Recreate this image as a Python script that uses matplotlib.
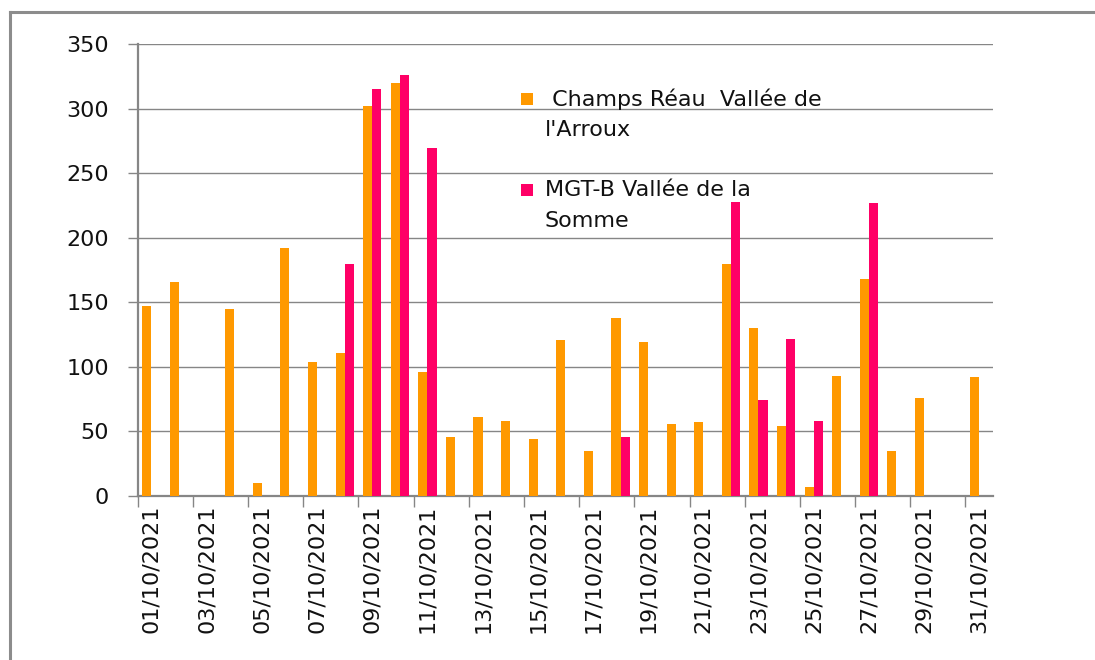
import numpy as np
import matplotlib
matplotlib.use("Agg")
import matplotlib.pyplot as plt
from matplotlib.patches import Rectangle
from matplotlib.lines import Line2D

days = list(range(1, 32))
day_labels = [f"{d:02d}/10/2021" for d in days]
nan = np.nan
champs_reau = [147, 166, nan, 145, 10, 192, 104, 111, 302, 320,
               96, 46, 61, 58, 44, 121, 35, 138, 119, 56,
               57, 180, 130, 54, 7, 93, 168, 35, 76, nan, 92]
mgt_b = [nan, nan, nan, nan, nan, nan, nan, 180, 315, 326,
         270, nan, nan, nan, nan, nan, nan, 46, nan, nan,
         nan, 228, 74, 122, 58, nan, 227, nan, nan, nan, nan]
series_names = ["Champs Réau  Vallée de\nl'Arroux", "MGT-B Vallée de la\nSomme"]
colors = ["#FF9900", "#FF0066"]
yticks = [0, 50, 100, 150, 200, 250, 300, 350]

W, H = 1095, 660
fig = plt.figure(figsize=(W / 100, H / 100), dpi=100)
fig.patch.set_facecolor("white")

L, R, T, B = 137.7, 993, 44.3, 496
ax = fig.add_axes([L / W, 1 - B / H, (R - L) / W, (B - T) / H])

x = np.array(days, dtype=float)
w = 0.33
ax.bar(x - w / 2, champs_reau, width=w, color=colors[0], zorder=3)
ax.bar(x + w / 2, mgt_b, width=w, color=colors[1], zorder=3)

ax.set_xlim(0.5, 31.5)
ax.set_ylim(0, 350)
grid_c = "#868686"
ax.set_yticks(yticks)
ax.set_yticklabels([str(v) for v in yticks])
ax.yaxis.grid(True, color=grid_c, linewidth=1.0)
ax.set_axisbelow(True)
for s in ["top", "right"]:
    ax.spines[s].set_visible(False)
for s in ["left", "bottom"]:
    ax.spines[s].set_color(grid_c)
    ax.spines[s].set_linewidth(1.6)

ax.tick_params(axis="y", direction="out", length=7.5, width=1.0, color=grid_c,
               labelsize=16, pad=13, labelcolor="#111111")

# major ticks at category boundaries, labels on minor ticks at centers
ax.set_xticks(np.arange(0.5, 31.5, 2.0))
ax.set_xticklabels([])
ax.tick_params(axis="x", which="major", direction="out", length=8, width=1.0, color=grid_c)
ax.set_xticks(x[::2], minor=True)
ax.set_xticklabels(day_labels[::2], minor=True, rotation=90)
ax.tick_params(axis="x", which="minor", length=0, labelsize=16, pad=6, labelcolor="#111111")

# legend drawn manually
def px(xp, yp):
    return xp / W, 1 - yp / H

for i, (name, c) in enumerate(zip(series_names, colors)):
    y0 = 99 + i * 91
    lines = name.split("\n")
    fig.patches.append(Rectangle(px(521, y0 + 6), 12 / W, 12 / H, transform=fig.transFigure,
                                 facecolor=c, edgecolor="none"))
    first = (" " if i == 0 else "") + lines[0]
    fig.text(*px(545, y0), first, fontsize=16, va="center", ha="left", color="#111111")
    fig.text(*px(545, y0 + 31), lines[1], fontsize=16, va="center", ha="left", color="#111111")

# outer border (left and top edges visible)
bc = "#8c8c8c"
fig.lines.append(Line2D([10 / W, 10 / W], [0, 1 - 12 / H], transform=fig.transFigure,
                        color=bc, linewidth=2.2))
fig.lines.append(Line2D([10 / W, 1], [1 - 12 / H, 1 - 12 / H], transform=fig.transFigure,
                        color=bc, linewidth=2.2))

fig.savefig("out.png", dpi=100)
